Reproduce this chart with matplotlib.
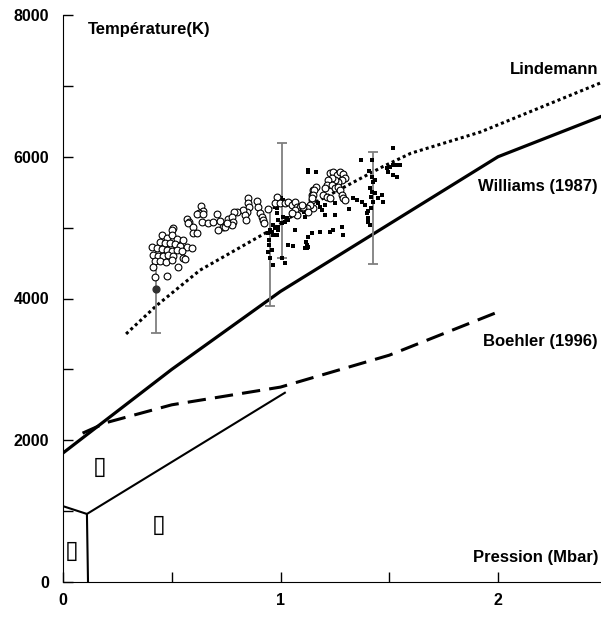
import numpy as np
import matplotlib
matplotlib.use("Agg")
import matplotlib.pyplot as plt

plt.rcParams["font.family"] = ["Liberation Sans", "DejaVu Sans"]
plt.rcParams["font.weight"] = "bold"

# melting curves (P in Mbar, T in K)
williams_p = [0.0, 0.5, 1.0, 2.0, 2.5]
williams_t = [1820, 3000, 4100, 6000, 6600]

lindemann_p = [0.29, 0.43, 0.63, 0.94, 1.12, 1.47, 1.6, 1.92, 2.47]
lindemann_t = [3500, 3900, 4400, 4940, 5290, 5860, 6050, 6350, 7040]

boehler_p = [0.09, 0.2, 0.5, 1.0, 1.5, 2.0]
boehler_t = [2100, 2250, 2500, 2750, 3200, 3810]

# solid-solid phase boundaries
phase_a_p = [0.0, 0.11, 0.115]
phase_a_t = [1070, 960, 0]
phase_b_p = [0.11, 1.02]
phase_b_t = [960, 2670]

# experimental points, open circles
circ_p = [0.634, 0.642, 0.627, 0.615, 0.645, 0.638, 0.569, 0.581, 0.573, 0.599, 0.599, 0.615,
          0.668, 0.688, 0.707, 0.722, 0.734, 0.714, 0.746, 0.760, 0.507, 0.500, 0.454, 0.477,
          0.500, 0.523, 0.550, 0.446, 0.469, 0.492, 0.515, 0.538, 0.569, 0.592, 0.408, 0.431,
          0.454, 0.477, 0.500, 0.523, 0.546, 0.415, 0.438, 0.461, 0.484, 0.507, 0.553, 0.561,
          0.423, 0.446, 0.474, 0.500, 0.415, 0.530, 0.477, 0.423,
          0.852, 0.849, 0.855, 0.845, 0.829, 0.837, 0.840, 0.799, 0.788, 0.778, 0.783, 0.776,
          0.893, 0.898, 0.906, 0.914, 0.921, 0.926, 0.941, 0.983, 0.975, 0.998, 1.021, 1.036,
          1.051, 1.067, 1.074, 1.090, 1.105, 1.120, 1.143, 1.148, 1.067, 1.074, 1.051, 0.753,
          1.151, 1.146,
          1.228, 1.243, 1.258, 1.274, 1.289, 1.297, 1.281, 1.266, 1.251, 1.235, 1.220, 1.212,
          1.205, 1.235, 1.251, 1.266, 1.274, 1.281, 1.289, 1.297, 1.163, 1.154, 1.151, 1.143,
          1.197, 1.212, 1.228, 1.136, 1.120, 1.105, 1.097, 1.128]
circ_t = [5310, 5240, 5200, 5190, 5190, 5080, 5120, 5080, 5060, 5010, 4920, 4920,
          5070, 5075, 5190, 5100, 5010, 4970, 5010, 5120, 5000, 4970, 4900, 4860,
          4900, 4835, 4825, 4800, 4780, 4790, 4765, 4745, 4730, 4715, 4730, 4710,
          4695, 4685, 4675, 4685, 4675, 4615, 4600, 4600, 4615, 4600, 4565, 4560,
          4535, 4535, 4520, 4545, 4450, 4440, 4320, 4310,
          5415, 5345, 5285, 5225, 5250, 5180, 5110, 5225, 5225, 5155, 5085, 5035,
          5380, 5285, 5200, 5155, 5110, 5060, 5260, 5435, 5350, 5345, 5345, 5365,
          5320, 5365, 5295, 5295, 5275, 5275, 5390, 5275, 5250, 5180, 5200, 5060,
          5530, 5460,
          5765, 5790, 5745, 5780, 5755, 5695, 5670, 5650, 5670, 5695, 5670, 5600,
          5555, 5600, 5555, 5580, 5530, 5460, 5415, 5390, 5580, 5530, 5460, 5415,
          5460, 5435, 5415, 5320, 5275, 5295, 5320, 5225]

# experimental points, filled squares
sq_p = [1.002, 1.013, 0.993, 1.008, 1.021, 0.983, 0.990, 1.006, 1.021, 1.013, 1.029, 1.036,
        0.967, 0.975, 0.990, 0.960, 0.952, 0.944, 0.983, 0.967, 0.949, 0.949, 0.941, 0.960,
        0.952, 0.967, 1.006, 1.021, 0.990, 0.975, 0.983, 1.036, 1.059, 1.067, 1.113, 1.125,
        1.120, 1.128, 1.146, 1.128, 1.516, 1.369, 1.419, 1.128, 1.163, 1.408, 1.419, 1.424,
        1.434, 1.411, 1.419, 1.434, 1.415, 1.424, 1.415, 1.404, 1.396, 1.404, 1.404, 1.411,
        1.389, 1.373, 1.350, 1.335, 1.465, 1.470, 1.450, 1.491, 1.503, 1.519, 1.534, 1.549,
        1.496, 1.519, 1.534, 1.251, 1.205, 1.182, 1.189, 1.174, 1.228, 1.316, 1.251, 1.205,
        1.182, 1.228, 1.243, 1.281, 1.286, 1.143, 1.128, 1.117, 1.113, 1.120, 1.108]
sq_t = [5415, 5390, 5350, 5345, 5365, 5200, 5110, 5060, 5085, 5155, 5130, 5110,
        5035, 4990, 4965, 4945, 4965, 4920, 4895, 4895, 4825, 4755, 4660, 4685,
        4565, 4475, 4565, 4495, 5015, 5295, 5275, 4755, 4740, 4965, 5155, 4870,
        4710, 4730, 4920, 5790, 6120, 5955, 5955, 5815, 5780, 5800, 5720, 5650,
        5670, 5555, 5505, 5485, 5435, 5365, 5280, 5235, 5200, 5130, 5075, 5035,
        5320, 5365, 5390, 5415, 5460, 5365, 5415, 5835, 5860, 5885, 5885, 5885,
        5790, 5745, 5720, 5345, 5320, 5295, 5250, 5345, 5390, 5265, 5180, 5180,
        4945, 4945, 4965, 5015, 4895, 4920, 4870, 4800, 4710, 4755, 5225]

# error bars
err_p = [0.428, 0.952, 1.007, 1.425]
err_lo = [3520, 3900, 4570, 4490]
err_hi = [4740, 5270, 6190, 6070]
err_mid = [4130, 4585, 5380, 5280]

phase_box_p = [0.170, 0.041, 0.441]
phase_box_t = [1620, 440, 800]

fig = plt.figure(figsize=(6.01, 6.21), dpi=100)
ax = fig.add_axes([63 / 601, 39 / 621, 538 / 601, 567 / 621])

ax.plot(williams_p, williams_t, color="black", lw=2.3, solid_capstyle="butt")
ax.plot(lindemann_p, lindemann_t, color="black", lw=2.2, linestyle=(0, (1, 1)))
ax.plot(boehler_p, boehler_t, color="black", lw=2.2, linestyle=(0, (6, 3)))
ax.plot(phase_a_p, phase_a_t, color="black", lw=1.5)
ax.plot(phase_b_p, phase_b_t, color="black", lw=1.5)

mid = np.array(err_mid)
yerr = [mid - np.array(err_lo), np.array(err_hi) - mid]
ax.errorbar(err_p, err_mid, yerr=yerr, fmt="none", ecolor="#7f7f7f", elinewidth=1.3,
            capsize=3.5, capthick=1.3, zorder=2)

ax.scatter(sq_p, sq_t, marker="s", s=6, color="black", linewidths=0, zorder=3)
ax.scatter(circ_p, circ_t, marker="o", s=24, facecolors="white", edgecolors="black",
           linewidths=0.8, zorder=4)
ax.scatter([err_p[0]], [err_mid[0]], marker="o", s=24, color="#303030", zorder=5)

for p, t in zip(phase_box_p, phase_box_t):
    ax.text(p, t, "\u25af", fontsize=18, ha="center", va="center", family="DejaVu Sans",
            fontweight="bold")

ax.set_xlim(0, 538 / 217.5)
ax.set_ylim(0, 8000)
ax.set_xticks([0, 1, 2])
ax.set_xticks([0.5, 1.5], minor=True)
ax.set_yticks([0, 2000, 4000, 6000, 8000])
ax.set_yticks([1000, 3000, 5000, 7000], minor=True)
ax.tick_params(which="both", direction="in", length=7, width=1, labelsize=11.5)
ax.tick_params(axis="y", which="major", pad=10)
ax.tick_params(axis="x", which="major", pad=8)
for s in ["top", "right"]:
    ax.spines[s].set_visible(False)

lab = dict(fontsize=12, fontweight="bold")
ax.text(0.115, 7800, "Température(K)", ha="left", va="center", **lab)
ax.text(2.46, 7225, "Lindemann", ha="right", va="center", **lab)
ax.text(2.46, 5575, "Williams (1987)", ha="right", va="center", **lab)
ax.text(2.46, 3400, "Boehler (1996)", ha="right", va="center", **lab)
ax.text(2.46, 340, "Pression (Mbar)", ha="right", va="center", **lab)

fig.savefig("out.png", dpi=100)
